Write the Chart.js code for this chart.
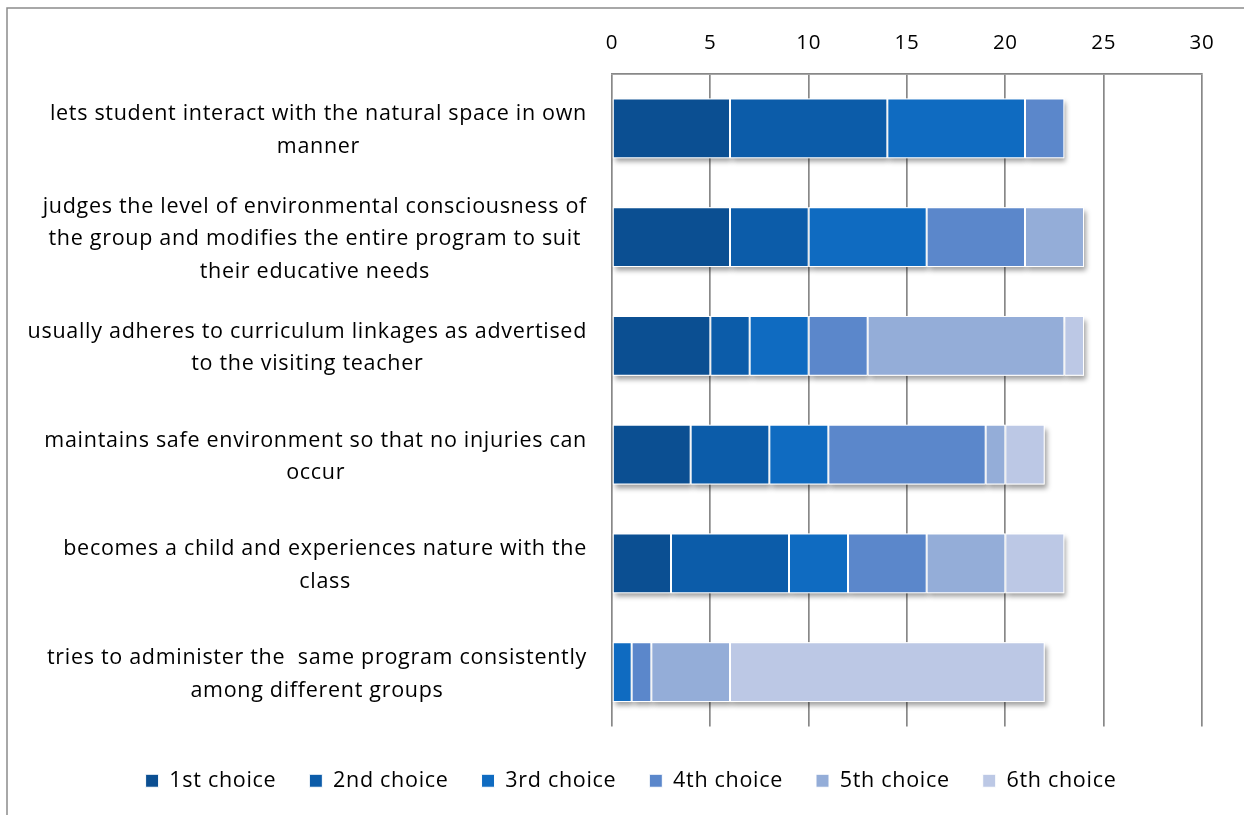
<!DOCTYPE html>
<html>
<head>
<meta charset="utf-8">
<title>Program leader behaviours by ranked choice</title>
<script src="https://cdn.jsdelivr.net/npm/chart.js@4.4.1/dist/chart.umd.min.js"></script>
<style>
  html, body { margin: 0; padding: 0; background: #ffffff; }
  #wrap { position: relative; width: 1244px; height: 815px; }
</style>
</head>
<body>
<div id="wrap"><canvas id="chart" width="1244" height="815"></canvas></div>
<script>
// Statements (each array holds the wrapped lines of one label)
const categories = [
  ["lets student interact with the natural space in own", "manner"],
  ["judges the level of environmental consciousness of", "the group and modifies the entire program to suit", "their educative needs"],
  ["usually adheres to curriculum linkages as advertised", "to the visiting teacher"],
  ["maintains safe environment so that no injuries can", "occur"],
  ["becomes a child and experiences nature with the", "class"],
  ["tries to administer the  same program consistently", "among different groups"]
];

// Number of respondents ranking each statement as their n-th choice
const firstChoice  = [6, 6, 5, 4, 3, 0];
const secondChoice = [8, 4, 2, 4, 6, 0];
const thirdChoice  = [7, 6, 3, 3, 3, 1];
const fourthChoice = [2, 5, 3, 8, 4, 1];
const fifthChoice  = [0, 3, 10, 1, 4, 4];
const sixthChoice  = [0, 0, 1, 2, 3, 16];

const seriesNames = ["1st choice", "2nd choice", "3rd choice", "4th choice", "5th choice", "6th choice"];
const xTicks = [0, 5, 10, 15, 20, 25, 30];

const colors = ["#0B4F92", "#0C5CA9", "#0F6BC1", "#5B87CB", "#94ADD8", "#BCC8E5"];
const FONT = '"Open Sans", "DejaVu Sans", sans-serif';
const LETTER_SPACING = "0.7px";
const PAD_LEFT = 60;
const PLOT_LEFT = 612;

const seriesValues = [firstChoice, secondChoice, thirdChoice, fourthChoice, fifthChoice, sixthChoice];

const datasets = seriesValues.map((vals, i) => ({
  label: seriesNames[i],
  data: vals,
  backgroundColor: colors[i],
  borderColor: "#ffffff",
  borderWidth: 1,
  borderSkipped: false,
  barPercentage: 0.55,
  categoryPercentage: 1.0
}));

// Slightly open letter spacing for all canvas text
const spacingPlugin = {
  id: "spacing",
  beforeUpdate(chart) { chart.ctx.letterSpacing = LETTER_SPACING; },
  beforeDraw(chart) { chart.ctx.letterSpacing = LETTER_SPACING; }
};

// Outer frame line along the top and left edges
const framePlugin = {
  id: "frame",
  beforeDraw(chart) {
    const ctx = chart.ctx;
    ctx.save();
    ctx.strokeStyle = "#8c8c8c";
    ctx.lineWidth = 1.5;
    ctx.beginPath();
    ctx.moveTo(7, chart.height);
    ctx.lineTo(7, 8);
    ctx.lineTo(chart.width, 8);
    ctx.stroke();
    ctx.restore();
  }
};

// Soft drop shadow under each bar segment
const shadowPlugin = {
  id: "barShadow",
  beforeDatasetsDraw(chart) {
    const ctx = chart.ctx;
    ctx.save();
    ctx.shadowColor = "rgba(0,0,0,0.38)";
    ctx.shadowBlur = 5;
    ctx.shadowOffsetX = 2;
    ctx.shadowOffsetY = 4;
    ctx.fillStyle = "#ffffff";
    chart.data.datasets.forEach((ds, di) => {
      const meta = chart.getDatasetMeta(di);
      meta.data.forEach((el) => {
        const w = el.x - el.base;
        if (Math.abs(w) < 0.5) return;
        ctx.fillRect(el.base, el.y - el.height / 2, w, el.height);
      });
    });
    ctx.restore();
  }
};

// Category labels: each block right-aligned to the axis, its lines centred within the block
const categoryLabelPlugin = {
  id: "categoryLabels",
  afterDraw(chart) {
    const ctx = chart.ctx;
    const y = chart.scales.y;
    const right = chart.chartArea.left - 25;
    const lineGap = 32.5;
    ctx.save();
    ctx.font = "21.5px " + FONT;
    ctx.letterSpacing = LETTER_SPACING;
    ctx.fillStyle = "#000000";
    ctx.textAlign = "center";
    ctx.textBaseline = "middle";
    categories.forEach((lines, i) => {
      const widest = Math.max(...lines.map(l => ctx.measureText(l).width));
      const cx = right - widest / 2;
      const cy = y.getPixelForValue(i) + 2;
      const top = cy - (lines.length - 1) * lineGap / 2;
      lines.forEach((l, k) => ctx.fillText(l, cx, top + k * lineGap));
    });
    ctx.restore();
  }
};

new Chart(document.getElementById("chart"), {
  type: "bar",
  data: { labels: categories.map(c => c.join(" ")), datasets },
  options: {
    indexAxis: "y",
    responsive: false,
    animation: false,
    layout: { padding: { left: PAD_LEFT, right: 42, top: 0, bottom: 13.5 } },
    scales: {
      x: {
        position: "top",
        stacked: true,
        min: 0,
        max: 30,
        afterBuildTicks(scale) { scale.ticks = xTicks.map(v => ({ value: v })); },
        ticks: { color: "#000000", padding: 19, font: { size: 20.5, family: FONT } },
        grid: { color: "#888888", lineWidth: 1.7, drawTicks: false },
        border: { color: "#888888", width: 1.7 },
        afterFit(scale) { scale.height = 74; }
      },
      y: {
        stacked: true,
        ticks: { display: false },
        grid: { display: false },
        border: { display: false },
        afterFit(scale) { scale.width = PLOT_LEFT - PAD_LEFT; }
      }
    },
    plugins: {
      legend: {
        position: "bottom",
        title: { display: true, text: "", font: { size: 5 }, padding: { top: 4.5, bottom: 0 } },
        labels: {
          boxWidth: 13,
          boxHeight: 13,
          padding: 33,
          color: "#000000",
          font: { size: 21.5, family: FONT }
        }
      },
      tooltip: { enabled: false }
    }
  },
  plugins: [spacingPlugin, framePlugin, shadowPlugin, categoryLabelPlugin]
});
</script>
</body>
</html>
